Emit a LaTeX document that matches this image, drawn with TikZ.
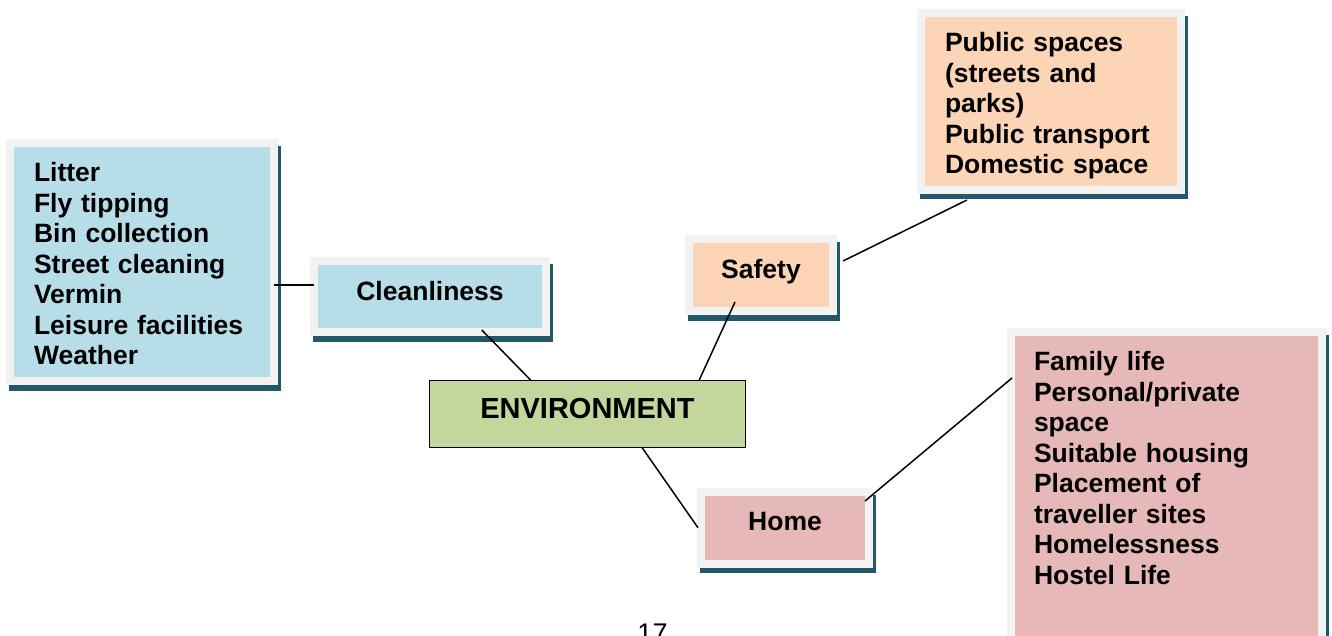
\documentclass[tikz,border=0pt]{standalone}
\usepackage{fontspec}
\setmainfont{Liberation Sans}
\usetikzlibrary{backgrounds}

\definecolor{framegrey}{RGB}{242,242,242}
\definecolor{shadowteal}{RGB}{33,89,104}
\definecolor{cleanblue}{RGB}{183,221,232}
\definecolor{safetypeach}{RGB}{251,213,181}
\definecolor{homepink}{RGB}{230,185,184}
\definecolor{envgreen}{RGB}{195,214,155}

\tikzstyle{box} = [draw=framegrey,line width=8pt,outer sep=0pt,inner sep=0pt,anchor=north west,font=\bfseries\fontsize{26.5pt}{30.5pt}\selectfont]
\tikzstyle{listbox} = [box,align=left,inner xsep=24pt]
\tikzstyle{tagbox} = [box,align=center]
\tikzstyle{shade} = [fill=shadowteal]
\tikzstyle{link} = [draw,line width=1.5pt,-]

\begin{document}
\begin{tikzpicture}[x=1pt,y=-1pt]
    \useasboundingbox (0,0) rectangle (1332,636);
    % First we draw the boxes
    \node[listbox,fill=cleanblue,text width=216pt,text height=38.7pt,text depth=199.3pt] (litter) at (10,143)
        {Litter\\Fly tipping\\Bin collection\\Street cleaning\\Vermin\\Leisure facilities\\Weather};
    \node[tagbox,fill=cleanblue,text width=232pt,text height=39pt,text depth=32pt] (clean) at (314,261) {Cleanliness};
    \node[tagbox,fill=safetypeach,text width=144pt,text height=39.3pt,text depth=32.7pt] (safety) at (689,239) {Safety};
    \node[listbox,fill=safetypeach,text width=212pt,text height=38.2pt,text depth=138.3pt] (public) at (921,13.5)
        {Public spaces\\(streets and\\parks)\\Public transport\\Domestic space};
    \node[tagbox,fill=homepink,text width=168pt,text height=38pt,text depth=33.5pt] (home) at (701,492) {Home};
    \node[listbox,fill=homepink,inner xsep=23.5pt,text width=264pt,text height=38.7pt,text depth=289.3pt] (homelist) at (1010.5,332)
        {Family life\\Personal/private\\space\\Suitable housing\\Placement of\\traveller sites\\Homelessness\\Hostel Life};
    \node[draw=black,line width=1.2pt,fill=envgreen,outer sep=0pt,inner sep=0pt,anchor=north west,align=center,
          text width=316pt,text height=38.3pt,text depth=28.7pt,font=\bfseries\fontsize{29pt}{33pt}\selectfont] (env) at (429.5,380.5) {ENVIRONMENT};
    \node[anchor=base,font=\fontsize{27pt}{30pt}\selectfont] (pagenum) at (652.5,642) {17};
    % Drop shadows behind the framed boxes
    \begin{scope}[on background layer]
        \foreach \name in {litter,clean,safety,public,home,homelist}
            \path[shade] ([xshift=-1pt,yshift=-9.5pt]\name.south west) rectangle ([xshift=7pt,yshift=-3pt]\name.north east);
    \end{scope}
    % Connect the boxes
    \path[link] ([yshift=-23pt]litter.east) -- ([yshift=11.5pt]clean.west);
    \path[link] ([xshift=51.75pt,yshift=2pt]clean.south) -- ([xshift=-56.5pt]env.north);
    \path[link] ([xshift=-26pt,yshift=9pt]safety.south) -- ([xshift=111.5pt]env.north);
    \path[link] ([xshift=54.5pt]env.south) -- ([xshift=-3pt]home.west);
    \path[link] ([xshift=10pt,yshift=14pt]safety.east) -- ([xshift=-84pt,yshift=-10pt]public.south);
    \path[link] ([xshift=-4pt,yshift=26.75pt]home.east) -- ([xshift=1.5pt,yshift=-46pt]homelist.north west);
\end{tikzpicture}
\end{document}
